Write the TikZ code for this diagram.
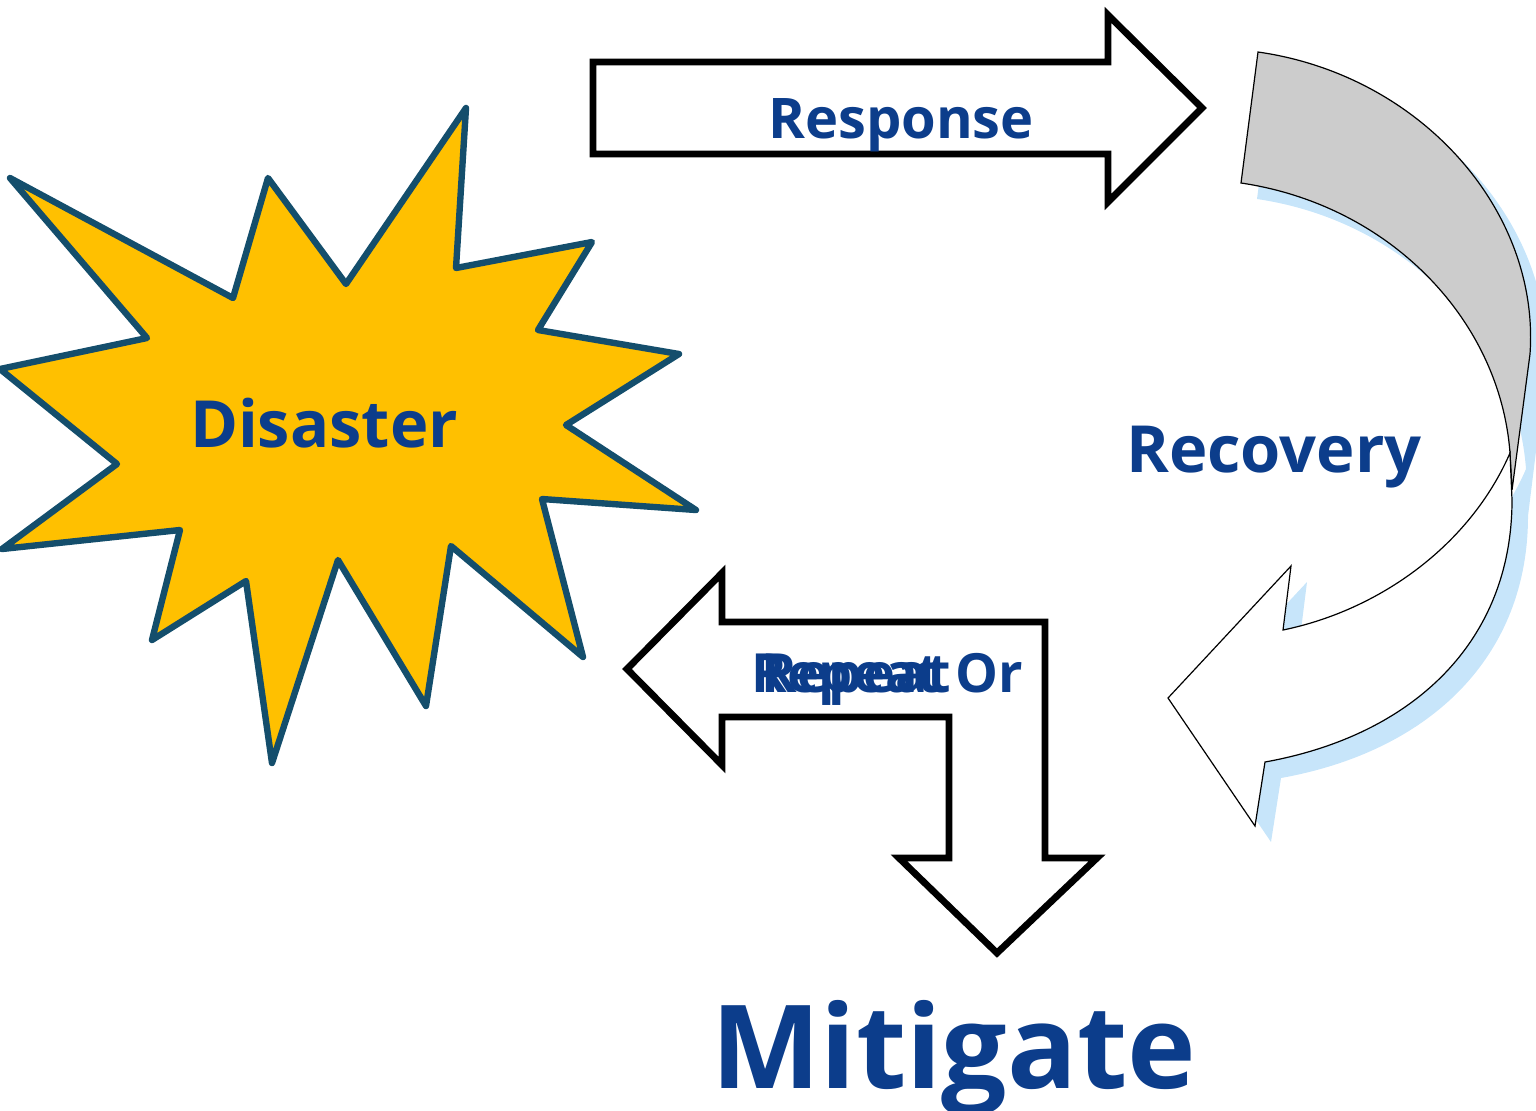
\documentclass[tikz,border=0pt]{standalone}
\usepackage{fontspec}
\setmainfont{Open Sans}
\definecolor{phaseblue}{RGB}{12,61,139}
\definecolor{burstedge}{RGB}{20,78,108}
\definecolor{burstfill}{RGB}{255,192,0}
\definecolor{shadowblue}{RGB}{199,229,250}
\begin{document}
\begin{tikzpicture}[x=0.5pt, y=-0.5pt,
  phase/.style={text=phaseblue, inner sep=0pt, anchor=base},
  blockarrow/.style={draw=black, line width=3.4pt, fill=white},
  burst/.style={draw=burstedge, fill=burstfill, line width=3.2pt, line join=round},
  turnarrow/.style={draw=black, line width=0.6pt}]

\useasboundingbox (0,0) rectangle (1536,1110);

\draw[burst] (10,178) -- (233,298) -- (268,178) -- (346,284) -- (466,108) -- (456,268)
  -- (592,242) -- (538,330) -- (679,354) -- (566,425) -- (696,510) -- (542,499)
  -- (583,657) -- (451,546) -- (426,706) -- (338,560) -- (272,763) -- (246,581)
  -- (152,640) -- (180,530) -- (2,549) -- (117,464) -- (0,369) -- (147,338) -- cycle;
\node[phase, font=\fontsize{32.5}{32.5}\selectfont\bfseries] (disaster) at (324,447) {Disaster};

\draw[blockarrow] (593,62) -- (1108,62) -- (1108,15) -- (1202,108) -- (1108,202)
  -- (1108,154) -- (593,154) -- cycle;
\node[phase, font=\fontsize{28}{28}\selectfont\bfseries] (response) at (901,138) {Response};

\begin{scope}[shift={(16,16)}]
\fill[shadowblue] (1258,52) .. controls (1420,75) and (1540,210) .. (1530,354)
  -- (1512,500) .. controls (1512,640) and (1415,735) .. (1265,762) -- (1255,826)
  -- (1168,698) -- (1291,566) -- (1283,630) .. controls (1380,610) and (1470,545) .. (1510,453)
  .. controls (1500,320) and (1390,205) .. (1241,183) -- cycle;
\end{scope}
\filldraw[turnarrow, fill=black!20] (1258,52) .. controls (1420,75) and (1540,210) .. (1530,354)
  -- (1512,490) -- (1510,453) .. controls (1500,320) and (1390,205) .. (1241,183) -- cycle;
\filldraw[turnarrow, fill=white] (1510,453) .. controls (1470,545) and (1380,610) .. (1283,630)
  -- (1291,566) -- (1168,698) -- (1255,826) -- (1265,762)
  .. controls (1415,735) and (1512,640) .. (1512,500) -- cycle;
\node[phase, font=\fontsize{32.5}{32.5}\selectfont\bfseries] (recovery) at (1274,472) {Recovery};

\draw[blockarrow] (627,669) -- (722,573) -- (722,622) -- (1045,622) -- (1045,858)
  -- (1097,858) -- (997,953) -- (899,858) -- (949,858) -- (949,717) -- (722,717)
  -- (722,765) -- cycle;
\node[phase, anchor=base west, font=\fontsize{27}{27}\selectfont\bfseries] (repeat) at (751,692) {Repeat};
\node[phase, anchor=base west, font=\fontsize{27}{27}\selectfont\bfseries] (repeatb) at (761,692) {Repeat};
\node[phase, anchor=base west, font=\fontsize{27}{27}\selectfont\bfseries] (or) at (955,692) {Or};

\node[phase, font=\fontsize{58}{58}\selectfont\bfseries] (mitigate) at (954,1088) {Mitigate};

\end{tikzpicture}
\end{document}
